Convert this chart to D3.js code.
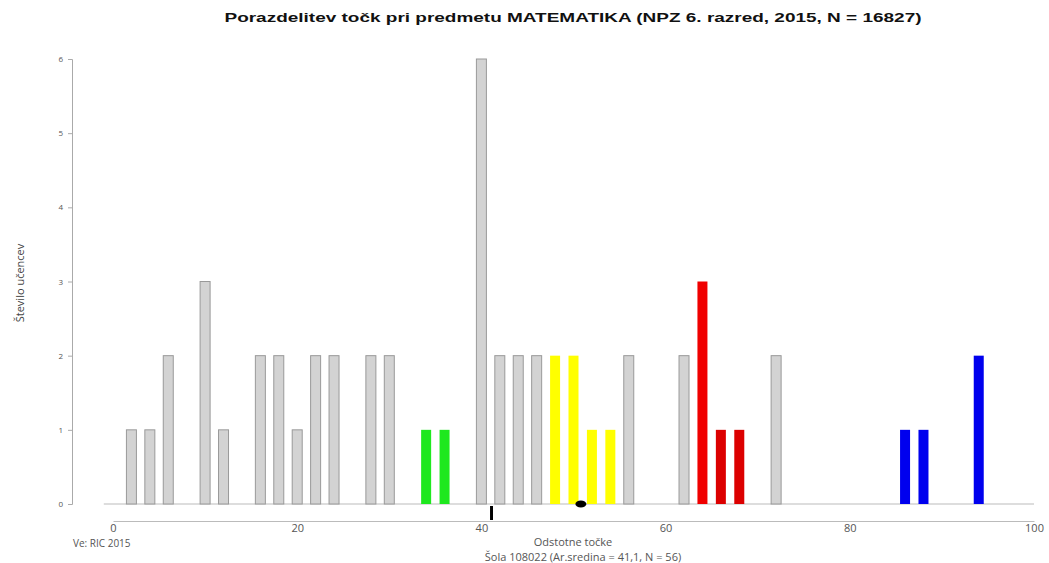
<!DOCTYPE html>
<html><head><meta charset="utf-8">
<script src="https://cdn.jsdelivr.net/npm/d3@7"></script>
<style>body{margin:0;background:#fff}svg{display:block}</style>
</head><body>
<svg id="c" width="1049" height="563"></svg>
<script>
const scores = [2,4,6,10,12,16,18,20,22,24,28,30,34,36,40,42,44,46,48,50,52,54,56,62,64,66,68,72,86,88,94];
const counts = [1,1,2,3,1,2,2,1,2,2,2,2,1,1,6,2,2,2,2,2,1,1,2,2,3,1,1,2,1,1,2];
const groups = ["g","g","g","g","g","g","g","g","g","g","g","g","green","green","g","g","g","g","yellow","yellow","yellow","yellow","g","g","red","red2","red2","g","blue","blue","blue"];
const xTicks = [0,20,40,60,80,100];
const yTicks = [0,1,2,3,4,5,6];
const schoolMean = 41.1;
const nationalMean = 50.8;
const title = "Porazdelitev točk pri predmetu MATEMATIKA (NPZ 6. razred, 2015, N = 16827)";
const yLabel = "Število učencev";
const xLabel = "Odstotne točke";
const subLabel = "Šola 108022 (Ar.sredina = 41,1, N = 56)";
const version = "Ve: RIC 2015";

const fill = {g:"#d3d3d3", green:"#1ee81e", yellow:"#ffff00", red:"#f00000", red2:"#dc0000", blue:"#0000ee"};
const stroke = {g:"#999", green:"none", yellow:"none", red:"none", red2:"none", blue:"none"};

const svg = d3.select("#c");
const font = "'Open Sans','Liberation Sans',sans-serif";
const x = d3.scaleLinear().domain([0,100]).range([113,1034]);
const y = d3.scaleLinear().domain([0,6]).range([504,59]);
const bw = 10;

svg.append("text").attr("x",573).attr("y",22).attr("text-anchor","middle")
  .attr("font-family","'Liberation Sans',sans-serif").attr("font-weight","bold").attr("font-size",13.5)
  .attr("textLength",697).attr("lengthAdjust","spacingAndGlyphs").attr("fill","#111").text(title);

// y axis
const ya = svg.append("g").attr("transform","translate(72,0)")
  .call(d3.axisLeft(y).tickValues(yTicks).tickSize(4).tickPadding(5).tickFormat(d3.format("d")));
ya.select(".domain").attr("stroke","#aaa");
ya.selectAll(".tick line").attr("stroke","#aaa");
ya.selectAll(".tick text").attr("font-family",font).attr("font-size",8).attr("fill","#555");

svg.append("text").attr("transform","translate(24,283) rotate(-90)").attr("text-anchor","middle")
  .attr("font-family",font).attr("font-size",11).attr("fill","#444").text(yLabel);

// baseline
svg.append("line").attr("x1",x(-1)).attr("x2",x(100)).attr("y1",y(0)).attr("y2",y(0))
  .attr("stroke","#bbb").attr("stroke-width",1);

// bars
const data = scores.map((s,i)=>({s, c:counts[i], g:groups[i]}));
svg.append("g").selectAll("rect").data(data).join("rect")
  .attr("x",d=>x(d.s)-bw/2).attr("width",bw)
  .attr("y",d=>y(d.c)).attr("height",d=>y(0)-y(d.c))
  .attr("fill",d=>fill[d.g]).attr("stroke",d=>stroke[d.g]).attr("stroke-width",1);

// x axis
const xa = svg.append("g").attr("transform","translate(0,521)")
  .call(d3.axisBottom(x).tickValues(xTicks).tickSize(0).tickPadding(3).tickFormat(d3.format("d")));
xa.select(".domain").attr("stroke","#bbb");
xa.selectAll(".tick text").attr("font-family",font).attr("font-size",11).attr("fill","#555");

// school mean marker
svg.append("line").attr("x1",x(schoolMean)).attr("x2",x(schoolMean)).attr("y1",y(0)+2).attr("y2",520)
  .attr("stroke","#000").attr("stroke-width",3);
// national mean dot
svg.append("ellipse").attr("cx",x(nationalMean)).attr("cy",y(0)).attr("rx",5.5).attr("ry",3.5).attr("fill","#000");

svg.append("text").attr("x",73).attr("y",547).attr("font-family",font).attr("font-size",10).attr("fill","#555").text(version);
svg.append("text").attr("x",573).attr("y",546).attr("text-anchor","middle").attr("font-family",font).attr("font-size",11).attr("fill","#555").text(xLabel);
svg.append("text").attr("x",583).attr("y",561).attr("text-anchor","middle").attr("font-family",font).attr("font-size",11).attr("fill","#555").text(subLabel);
</script>
</body></html>
